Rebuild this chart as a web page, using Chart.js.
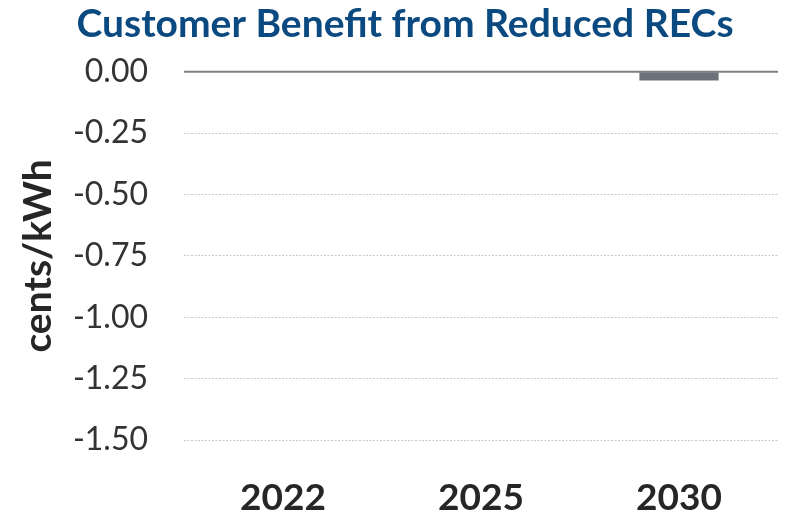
<!DOCTYPE html>
<html>
<head>
<meta charset="utf-8">
<script src="https://cdn.jsdelivr.net/npm/chart.js@4"></script>
<style>
  html, body { margin: 0; padding: 0; background: #fff; }
  #wrap { width: 788px; height: 516px; }
</style>
</head>
<body>
<div id="wrap"><canvas id="recChart" width="788" height="516"></canvas></div>
<script>
// Werte des Diagramms
const years = ['2022', '2025', '2030'];
const benefit = [0, 0, -0.035];
const yTicks = [0, -0.25, -0.5, -0.75, -1.0, -1.25, -1.5];

const font = 'Lato, "Open Sans", sans-serif';

// Nulllinie über den Balken
const zeroLine = {
    id: 'zeroLine',
    afterDatasetsDraw(chart) {
        const { ctx, chartArea, scales } = chart;
        const y = scales.y.getPixelForValue(0);
        ctx.save();
        ctx.strokeStyle = '#7f7f7f';
        ctx.lineWidth = 2;
        ctx.beginPath();
        ctx.moveTo(chartArea.left, y);
        ctx.lineTo(chartArea.right, y);
        ctx.stroke();
        ctx.restore();
    }
};

const config = {
    type: 'bar',
    data: {
        labels: years,
        datasets: [{
            data: benefit,
            backgroundColor: '#6a7178',
            barPercentage: 0.5,
            categoryPercentage: 0.8
        }]
    },
    options: {
        responsive: false,
        animation: false,
        layout: { padding: { left: 32, right: 10, top: 0, bottom: 0 } },
        plugins: {
            legend: { display: false },
            tooltip: { enabled: false },
            title: {
                display: true,
                text: 'Customer Benefit from Reduced RECs',
                color: '#0b4a80',
                font: { family: font, size: 39, weight: 'bold' },
                padding: { top: 1, bottom: 24 }
            }
        },
        scales: {
            x: {
                grid: { display: false, drawTicks: false },
                border: { display: false },
                ticks: {
                    color: '#262626',
                    font: { family: font, size: 37, weight: 'bold' },
                    padding: 36
                },
                afterFit(axis) { axis.height = 76; }
            },
            y: {
                min: -1.5,
                max: 0,
                afterBuildTicks(axis) {
                    axis.ticks = yTicks.map(v => ({ value: v }));
                },
                grid: {
                    color: '#c8c8c8',
                    lineWidth: 1,
                    drawTicks: false
                },
                border: { display: false, dash: [2, 1.5] },
                ticks: {
                    color: '#333333',
                    font: { family: font, size: 32 },
                    padding: 36,
                    callback: v => v.toFixed(2)
                },
                title: {
                    display: true,
                    text: 'cents/kWh',
                    color: '#262626',
                    font: { family: font, size: 39, weight: 'bold' },
                    padding: { top: -17, bottom: 0 }
                },
                afterFit(axis) { axis.width = 152; }
            }
        }
    },
    plugins: [zeroLine]
};

new Chart(document.getElementById('recChart'), config);
</script>
</body>
</html>
